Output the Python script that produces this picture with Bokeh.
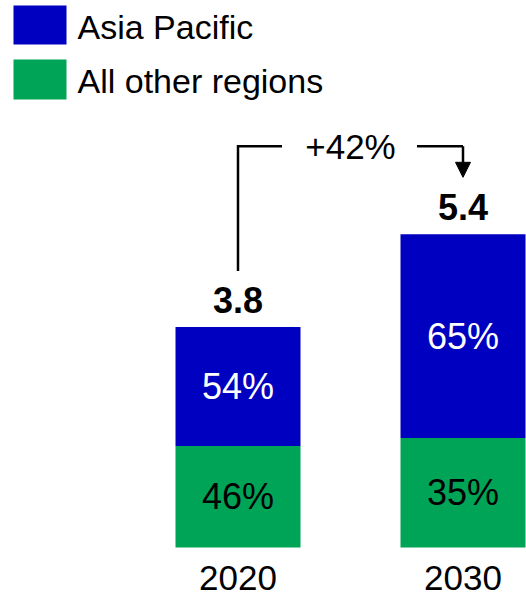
from bokeh.plotting import figure
from bokeh.models import Range1d, Arrow, NormalHead
from bokeh.core.properties import value
from bokeh.embed import file_html
from bokeh.resources import INLINE

# ---- data ----
years = ["2020", "2030"]
totals = [3.8, 5.4]
asia_share = [54, 65]
other_share = [46, 35]
growth_label = "+42%"
series_names = ["Asia Pacific", "All other regions"]
colors = ["#0000C0", "#00A457"]

# ---- layout ----
W, H = 526, 598
PX_X = 225.0      # px per category step
PX_Y = 58.0       # px per value unit
X0_PX = 237.5     # screen x of first category centre
BASE_PX = 547     # screen y (from top) of baseline
BAR_W = 125 / PX_X
FONT = value("Liberation Sans")

x_start = -X0_PX / PX_X
y_start = -(H - BASE_PX) / PX_Y


def sx(px):
    return x_start + px / PX_X


def sy(py):
    return y_start + (H - py) / PX_Y


p = figure(width=W, height=H,
           x_range=Range1d(x_start, x_start + W / PX_X),
           y_range=Range1d(y_start, y_start + H / PX_Y),
           output_backend="svg", toolbar_location=None,
           x_axis_location=None, y_axis_location=None, min_border=0)
p.grid.visible = False
p.outline_line_color = None

xs = list(range(len(years)))
other_vals = [t * s / 100 for t, s in zip(totals, other_share)]
asia_vals = [t * s / 100 for t, s in zip(totals, asia_share)]

p.vbar(x=xs, bottom=0, top=other_vals, width=BAR_W, fill_color=colors[1], line_color=None)
p.vbar(x=xs, bottom=other_vals, top=totals, width=BAR_W, fill_color=colors[0], line_color=None)

# segment labels
p.text(x=xs, y=[o / 2 for o in other_vals], text=[f"{s}%" for s in other_share],
       text_align="center", text_baseline="middle", text_font=FONT,
       text_font_size="36px", text_color="black")
p.text(x=xs, y=[o + a / 2 for o, a in zip(other_vals, asia_vals)], text=[f"{s}%" for s in asia_share],
       text_align="center", text_baseline="middle", text_font=FONT,
       text_font_size="36px", text_color="white")

# totals
p.text(x=xs, y=[t + 27 / PX_Y for t in totals], text=[f"{t:.1f}" for t in totals],
       text_align="center", text_baseline="middle", text_font=FONT,
       text_font_size="36px", text_font_style="bold", text_color="black")

# year labels
p.text(x=xs, y=[-30 / PX_Y] * len(xs), text=years,
       text_align="center", text_baseline="middle", text_font=FONT,
       text_font_size="35px", text_color="black")

# growth bracket
top_y = totals[1] + 88 / PX_Y
p.line(x=[0, 0, 44 / PX_X], y=[totals[0] + 56 / PX_Y, top_y, top_y],
       line_color="black", line_width=2.5, line_join="miter")
p.line(x=[1 - 46 / PX_X, 1], y=[top_y, top_y], line_color="black", line_width=2.5, line_join="miter")
p.add_layout(Arrow(end=NormalHead(size=15, fill_color="black", line_color="black", line_width=1),
                   x_start=1, y_start=top_y, x_end=1, y_end=totals[1] + 57 / PX_Y,
                   line_color="black", line_width=2.5))
p.text(x=[0.5], y=[top_y], text=[growth_label], text_align="center", text_baseline="middle",
       text_font=FONT, text_font_size="35px", text_color="black")

# legend
legend_tops = [5, 59]
legend_bottoms = [44, 99]
legend_text_y = [26, 80]
p.quad(left=[sx(13)] * 2, right=[sx(66)] * 2,
       top=[sy(t) for t in legend_tops], bottom=[sy(b) for b in legend_bottoms],
       fill_color=colors, line_color=None)
p.text(x=[sx(77)] * 2, y=[sy(t) for t in legend_text_y], text=series_names,
       text_align="left", text_baseline="middle", text_font=FONT,
       text_font_size="34px", text_color="black")

open("out.html", "w").write(file_html(p, INLINE))
